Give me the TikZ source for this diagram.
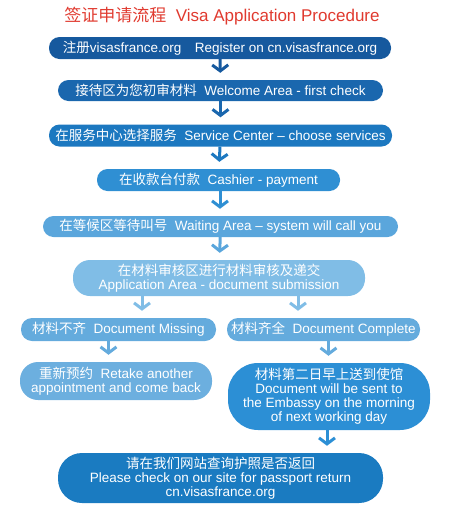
\documentclass[tikz,border=0pt]{standalone}
\usepackage{fontspec}
\setmainfont{Liberation Sans}
\newfontfamily\cjk{Noto Sans CJK SC}
\usetikzlibrary{arrows.meta, calc}

\definecolor{titlered}{HTML}{E03A2F}
\definecolor{blueA}{HTML}{16599E}
\definecolor{blueB}{HTML}{1A67AE}
\definecolor{blueC}{HTML}{1C78C0}
\definecolor{blueD}{HTML}{2F8FD3}
\definecolor{blueE}{HTML}{5AA6DC}
\definecolor{blueF}{HTML}{80BDE6}
\definecolor{blueG}{HTML}{64ABDD}
\definecolor{blueH}{HTML}{2C8FD5}
\definecolor{blueI}{HTML}{1A7BC1}

\newcommand{\zh}[1]{{\cjk #1}}

\tikzset{
    stepbox/.style={rounded corners=10.5pt, text=white, align=center, inner sep=0pt,
        font=\fontsize{13.5}{14}\selectfont},
    flow/.style={-{Straight Barb[length=6pt,width=16pt]}, line width=3pt, shorten >=7pt}
}

\begin{document}
\begin{tikzpicture}[x=1pt, y=-1pt]
    \useasboundingbox (0,0) rectangle (450,517);

    % Title
    \node[text=titlered, font=\fontsize{17}{19}\selectfont] (title) at (222,16)
        {\zh{签证申请流程}\ \ Visa Application Procedure};

    % Main steps
    \node[stepbox, fill=blueA, minimum width=342pt, minimum height=22pt] (reg) at (220,48)
        {\zh{注册}visasfrance.org\quad Register on cn.visasfrance.org};
    \node[stepbox, fill=blueB, minimum width=325pt, minimum height=21pt] (welcome) at (220.5,90.5)
        {\zh{接待区为您初审材料}\ \ Welcome Area - first check};
    \node[stepbox, fill=blueC, minimum width=343pt, minimum height=22pt] (service) at (220.5,135.5)
        {\zh{在服务中心选择服务}\ \ Service Center -- choose services};
    \node[stepbox, fill=blueD, minimum width=243pt, minimum height=22pt] (cashier) at (218.5,180)
        {\zh{在收款台付款}\ \ Cashier - payment};
    \node[stepbox, fill=blueE, minimum width=355pt, minimum height=21pt] (waiting) at (220.5,226.5)
        {\zh{在等候区等待叫号}\ \ Waiting Area -- system will call you};
    \node[stepbox, fill=blueF, rounded corners=17pt, minimum width=292pt, minimum height=36pt] (submit) at (219,278)
        {\zh{在材料审核区进行材料审核及递交}\\Application Area - document submission};

    % Branches
    \node[stepbox, fill=blueG, rounded corners=11pt, minimum width=195pt, minimum height=23pt] (missing) at (118.5,329.5)
        {\zh{材料不齐}\ \ Document Missing};
    \node[stepbox, fill=blueG, rounded corners=11pt, minimum width=193pt, minimum height=23pt] (complete) at (323.5,329.5)
        {\zh{材料齐全}\ \ Document Complete};
    \node[stepbox, fill=blueG!95!white, rounded corners=18pt, minimum width=192pt, minimum height=38pt] (retake) at (116,381)
        {\zh{重新预约}\ \ Retake another\\appointment and come back};
    \node[stepbox, fill=blueH, rounded corners=30pt, minimum width=202pt, minimum height=67pt] (embassy) at (329,396.5)
        {\zh{材料第二日早上送到使馆}\\Document will be sent to\\the Embassy on the morning\\of next working day};

    % Last step
    \node[stepbox, fill=blueI, rounded corners=24pt, minimum width=325pt, minimum height=50pt] (check) at (220.5,478)
        {\zh{请在我们网站查询护照是否返回}\\Please check on our site for passport return\\cn.visasfrance.org};

    % Arrows
    \draw[flow, blueA] (reg) -- (welcome);
    \draw[flow, blueB] (welcome) -- (service);
    \draw[flow, blueC] (service) -- (cashier);
    \draw[flow, blueD] ([xshift=1.5pt]cashier.south) -- ([xshift=1.5pt]cashier.south |- waiting.north);
    \draw[flow, blueE] (waiting) -- (submit);
    \draw[flow, blueF] ([xshift=-77pt]submit.south) -- ([xshift=-77pt]submit.south |- missing.north);
    \draw[flow, blueF] ([xshift=79pt]submit.south) -- ([xshift=79pt]submit.south |- complete.north);
    \draw[flow, blueG] ([xshift=-10pt]missing.south) -- ([xshift=-10pt]missing.south |- retake.north);
    \draw[flow, blueG] ([xshift=5pt]complete.south) -- ([xshift=5pt]complete.south |- embassy.north);
    \draw[flow, blueH] ([xshift=-2pt]embassy.south) -- ([xshift=-2pt]embassy.south |- check.north);
\end{tikzpicture}
\end{document}
